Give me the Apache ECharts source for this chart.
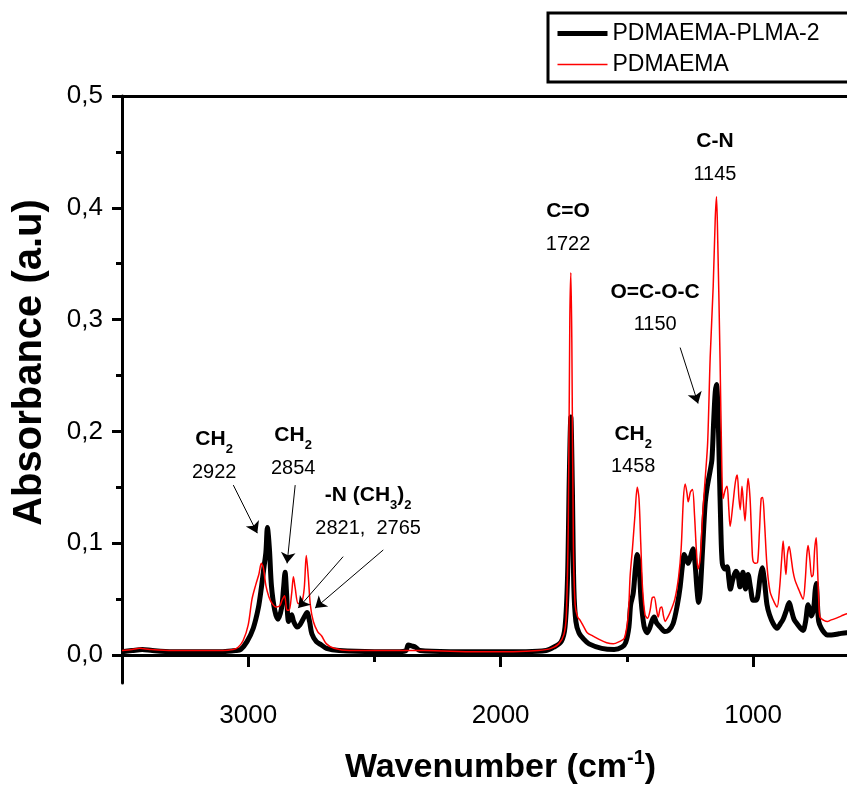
<!DOCTYPE html>
<html>
<head>
<meta charset="utf-8">
<script src="https://cdn.jsdelivr.net/npm/echarts@6/dist/echarts.min.js"></script>
<style>
  html, body { margin: 0; padding: 0; background: #fff; }
  #chart { width: 847px; height: 785px; }
</style>
</head>
<body>
<div id="chart"></div>
<script>
// PDMAEMA-PLMA-2 (thick black)
const blackWn = [3500, 3460, 3420, 3380, 3300, 3200, 3100, 3050, 3030, 3005, 2980, 2960, 2948, 2938, 2930, 2924, 2916, 2908, 2895, 2882, 2868, 2860, 2854, 2848, 2840, 2828, 2820, 2806, 2795, 2778, 2767, 2757, 2748, 2730, 2710, 2690, 2640, 2500, 2400, 2375, 2366, 2350, 2338, 2320, 2200, 2000, 1900, 1820, 1790, 1760, 1745, 1735, 1728, 1722, 1716, 1710, 1702, 1690, 1670, 1650, 1600, 1550, 1520, 1505, 1492, 1485, 1475, 1466, 1459, 1452, 1444, 1432, 1420, 1410, 1400, 1392, 1383, 1368, 1350, 1335, 1317, 1300, 1289, 1280, 1273, 1265, 1257, 1248, 1238, 1230, 1222, 1216, 1210, 1200, 1190, 1182, 1170, 1163, 1156, 1150, 1145, 1140, 1134, 1128, 1122, 1112, 1103, 1096, 1090, 1080, 1068, 1060, 1052, 1046, 1040, 1030, 1020, 1010, 1000, 990, 982, 972, 964, 956, 945, 935, 920, 905, 892, 881, 868, 857, 848, 838, 826, 812, 802, 792, 782, 775, 769, 760, 754, 750, 745, 740, 730, 718, 707, 690, 660, 630, 600];
const blackAbs = [0.003, 0.004, 0.005, 0.004, 0.003, 0.003, 0.003, 0.004, 0.005, 0.012, 0.024, 0.042, 0.060, 0.078, 0.092, 0.114, 0.095, 0.062, 0.040, 0.032, 0.042, 0.060, 0.074, 0.055, 0.030, 0.036, 0.030, 0.025, 0.027, 0.034, 0.038, 0.030, 0.019, 0.012, 0.009, 0.006, 0.004, 0.003, 0.003, 0.004, 0.009, 0.008, 0.007, 0.004, 0.003, 0.003, 0.003, 0.004, 0.007, 0.012, 0.025, 0.070, 0.160, 0.213, 0.150, 0.060, 0.030, 0.020, 0.014, 0.010, 0.006, 0.005, 0.007, 0.011, 0.025, 0.045, 0.055, 0.078, 0.090, 0.082, 0.050, 0.026, 0.020, 0.024, 0.031, 0.034, 0.029, 0.025, 0.021, 0.022, 0.028, 0.045, 0.061, 0.080, 0.090, 0.086, 0.082, 0.088, 0.095, 0.082, 0.058, 0.047, 0.055, 0.095, 0.135, 0.150, 0.165, 0.175, 0.210, 0.235, 0.242, 0.225, 0.170, 0.115, 0.082, 0.077, 0.079, 0.068, 0.059, 0.068, 0.075, 0.072, 0.061, 0.068, 0.074, 0.059, 0.072, 0.060, 0.049, 0.049, 0.052, 0.070, 0.078, 0.068, 0.045, 0.036, 0.028, 0.024, 0.028, 0.032, 0.040, 0.047, 0.040, 0.032, 0.028, 0.024, 0.022, 0.030, 0.045, 0.040, 0.035, 0.042, 0.058, 0.064, 0.045, 0.030, 0.024, 0.020, 0.018, 0.018, 0.019, 0.020, 0.020];

// PDMAEMA (thin red)
const redWn = [3500, 3460, 3430, 3390, 3300, 3200, 3100, 3060, 3040, 3020, 3000, 2985, 2970, 2958, 2948, 2940, 2930, 2918, 2905, 2890, 2875, 2866, 2856, 2846, 2838, 2828, 2821, 2814, 2802, 2788, 2778, 2770, 2762, 2754, 2742, 2725, 2709, 2690, 2660, 2600, 2400, 2300, 2100, 1950, 1850, 1800, 1770, 1750, 1740, 1732, 1726, 1722, 1718, 1712, 1705, 1695, 1685, 1670, 1657, 1634, 1610, 1580, 1554, 1530, 1510, 1495, 1487, 1478, 1468, 1459, 1452, 1445, 1438, 1428, 1418, 1408, 1400, 1392, 1382, 1376, 1368, 1362, 1355, 1348, 1340, 1329, 1310, 1295, 1285, 1276, 1269, 1262, 1257, 1248, 1240, 1232, 1225, 1218, 1210, 1200, 1190, 1180, 1170, 1158, 1150, 1145, 1140, 1131, 1124, 1119, 1110, 1103, 1096, 1091, 1080, 1070, 1063, 1056, 1051, 1044, 1038, 1032, 1026, 1020, 1012, 1004, 1000, 990, 982, 975, 968, 962, 955, 945, 933, 918, 905, 895, 887, 881, 875, 870, 864, 857, 850, 842, 834, 818, 802, 794, 787, 782, 775, 768, 762, 756, 750, 745, 740, 735, 720, 705, 695, 670, 650, 628, 600];
const redAbs = [0.004, 0.005, 0.006, 0.005, 0.004, 0.004, 0.004, 0.005, 0.007, 0.013, 0.027, 0.050, 0.063, 0.072, 0.082, 0.078, 0.062, 0.052, 0.046, 0.043, 0.044, 0.049, 0.053, 0.040, 0.040, 0.055, 0.070, 0.060, 0.046, 0.047, 0.060, 0.089, 0.070, 0.045, 0.030, 0.021, 0.017, 0.010, 0.006, 0.004, 0.004, 0.004, 0.003, 0.003, 0.004, 0.006, 0.010, 0.018, 0.035, 0.120, 0.300, 0.342, 0.280, 0.100, 0.045, 0.034, 0.031, 0.025, 0.020, 0.017, 0.014, 0.011, 0.010, 0.012, 0.015, 0.035, 0.071, 0.095, 0.125, 0.150, 0.140, 0.100, 0.060, 0.036, 0.033, 0.040, 0.051, 0.052, 0.040, 0.034, 0.042, 0.043, 0.035, 0.030, 0.033, 0.038, 0.050, 0.070, 0.095, 0.140, 0.153, 0.145, 0.137, 0.146, 0.148, 0.125, 0.095, 0.077, 0.085, 0.125, 0.157, 0.190, 0.266, 0.330, 0.390, 0.410, 0.370, 0.266, 0.170, 0.140, 0.148, 0.151, 0.130, 0.115, 0.135, 0.155, 0.161, 0.140, 0.130, 0.151, 0.135, 0.120, 0.140, 0.158, 0.140, 0.095, 0.084, 0.082, 0.083, 0.110, 0.140, 0.141, 0.120, 0.080, 0.057, 0.048, 0.043, 0.060, 0.085, 0.102, 0.085, 0.072, 0.090, 0.097, 0.088, 0.075, 0.067, 0.058, 0.050, 0.065, 0.090, 0.098, 0.085, 0.070, 0.072, 0.095, 0.105, 0.080, 0.050, 0.034, 0.031, 0.030, 0.031, 0.033, 0.035, 0.037, 0.038];

const seriesNames = ['PDMAEMA-PLMA-2', 'PDMAEMA'];
const xMajorTicks = [1000, 2000, 3000];
const xMinorTicks = [1500, 2500, 3500];
const yMajorTicks = [0, 0.1, 0.2, 0.3, 0.4, 0.5];
const yMinorTicks = [0.05, 0.15, 0.25, 0.35, 0.45];

// peak labels: [wavenumber, absorbance] of label centre
const peakLabels = [
  { coord: [3135, 0.178], text: '{b|CH}{s|2}\n{n|2922}' },
  { coord: [2822, 0.182], text: '{b|CH}{s|2}\n{n|2854}' },
  { coord: [2525, 0.128], text: '{b|-N (CH}{s|3}{b|)}{s|2}\n{n|2821,  2765}' },
  { coord: [1733, 0.382], text: '{b|C=O}\n{n|1722}' },
  { coord: [1388, 0.310], text: '{b|O=C-O-C}\n{n|1150}' },
  { coord: [1475, 0.183], text: '{b|CH}{s|2}\n{n|1458}' },
  { coord: [1151, 0.445], text: '{b|C-N}\n{n|1145}' }
];
// arrows: start -> tip
const peakArrows = [
  [[3059, 0.152], [2964, 0.109]],
  [[2814, 0.152], [2846, 0.082]],
  [[2624, 0.088], [2802, 0.042]],
  [[2465, 0.094], [2735, 0.042]],
  [[1289, 0.275], [1218, 0.225]]
];

const FONT = '"Liberation Sans", Arial, sans-serif';
const toPairs = (xs, ys) => xs.map((x, i) => [x, ys[i]]);

const chart = echarts.init(document.getElementById('chart'));

const xCommon = { type: 'value', min: 628, max: 3500, inverse: true, splitLine: { show: false } };
const yCommon = { type: 'value', min: -0.025, max: 0.5, splitLine: { show: false } };
const black3 = { color: '#000', width: 3 };

chart.setOption({
  animation: false,
  backgroundColor: '#fff',
  grid: { left: 122, top: 96, right: 0, bottom: 102, outerBoundsMode: 'none' },
  legend: {
    data: [
      { name: seriesNames[0], lineStyle: { width: 5, color: '#000' } },
      { name: seriesNames[1], lineStyle: { width: 1.5, color: '#ff0000' } }
    ],
    orient: 'vertical',
    left: 548, top: 13,
    borderColor: '#000', borderWidth: 3,
    padding: [9, 80, 6, 7],
    itemGap: 8,
    itemWidth: 50, itemHeight: 14,
    itemStyle: { opacity: 0 },
    textStyle: { fontSize: 23, color: '#000', fontFamily: FONT, lineHeight: 22 }
  },
  xAxis: [
    Object.assign({}, xCommon, {
      position: 'bottom',
      axisLine: { lineStyle: black3 },
      axisTick: { customValues: xMajorTicks, length: 12, lineStyle: black3 },
      axisLabel: {
        customValues: xMajorTicks, fontSize: 26, color: '#000', fontFamily: FONT, margin: 20,
        formatter: (v) => String(v)
      },
      name: '{t|Wavenumber (cm}{sup|-1}{t|)}',
      nameLocation: 'middle',
      nameGap: 65,
      nameTextStyle: {
        padding: [0, 0, 0, 32],
        rich: {
          t: { fontSize: 34, fontWeight: 'bold', color: '#000', fontFamily: FONT, lineHeight: 40 },
          sup: { fontSize: 20, fontWeight: 'bold', color: '#000', fontFamily: FONT, lineHeight: 22, verticalAlign: 'top' }
        }
      }
    }),
    Object.assign({}, xCommon, {
      position: 'bottom',
      axisLine: { show: false },
      axisTick: { customValues: xMinorTicks, length: 7, lineStyle: black3 },
      axisLabel: { show: false }
    }),
    Object.assign({}, xCommon, {
      position: 'top',
      axisLine: { lineStyle: black3 },
      axisTick: { show: false },
      axisLabel: { show: false }
    })
  ],
  yAxis: [
    Object.assign({}, yCommon, {
      position: 'left',
      axisLine: { show: true, lineStyle: black3 },
      axisTick: { show: true, customValues: yMajorTicks, length: 10, lineStyle: black3 },
      axisLabel: {
        customValues: yMajorTicks, fontSize: 26, color: '#000', fontFamily: FONT, margin: 19,
        formatter: (v) => v.toFixed(1).replace('.', ',')
      },
      name: 'Absorbance (a.u)',
      nameLocation: 'middle',
      nameGap: 72,
      nameTextStyle: { fontSize: 40, fontWeight: 'bold', color: '#000', fontFamily: FONT, padding: [0, 0, 0, 54] }
    }),
    Object.assign({}, yCommon, {
      position: 'left',
      axisLine: { show: false },
      axisTick: { show: true, customValues: yMinorTicks, length: 6, lineStyle: black3 },
      axisLabel: { show: false }
    })
  ],
  series: [
    {
      name: seriesNames[0],
      type: 'line',
      data: toPairs(blackWn, blackAbs),
      showSymbol: false,
      symbol: 'none',
      smooth: 0.3,
      lineStyle: { color: '#000', width: 5 },
      itemStyle: { color: '#000' },
      markPoint: {
        symbol: 'circle', symbolSize: 0, silent: true,
        itemStyle: { color: 'transparent' },
        label: {
          show: true, position: 'inside', color: '#000',
          formatter: (p) => p.data.text,
          rich: {
            b: { fontSize: 21, fontWeight: 'bold', color: '#000', fontFamily: FONT, lineHeight: 33 },
            s: { fontSize: 13, fontWeight: 'bold', color: '#000', fontFamily: FONT, lineHeight: 14, verticalAlign: 'bottom' },
            n: { fontSize: 20, color: '#000', fontFamily: FONT, lineHeight: 33 }
          }
        },
        data: peakLabels.map((d) => ({ coord: d.coord, text: d.text }))
      },
      markLine: {
        silent: true,
        symbol: ['none', 'arrow'],
        symbolSize: 11,
        label: { show: false },
        lineStyle: { color: '#000', width: 1, type: 'solid' },
        data: peakArrows.map((a) => [{ coord: a[0] }, { coord: a[1] }])
      }
    },
    {
      name: seriesNames[1],
      type: 'line',
      data: toPairs(redWn, redAbs),
      showSymbol: false,
      symbol: 'none',
      smooth: 0.3,
      lineStyle: { color: '#ff0000', width: 1.5 },
      itemStyle: { color: '#ff0000' }
    }
  ]
});
</script>
</body>
</html>
